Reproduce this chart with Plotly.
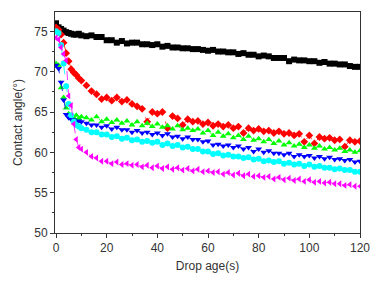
import plotly.graph_objects as go

time_s = [0,1,2,3,4,5,6,7,8,9,10] + list(range(12, 121, 2))

black = [76.0,75.5,75.3,75.1,74.9,74.8,74.7,74.6,74.6,74.7,74.5,
         74.4,74.5,74.3,74.3,73.9,73.9,73.6,73.8,73.5,73.6,
         73.6,73.4,73.4,73.3,73.4,73.1,73.2,73.0,73.0,72.9,
         72.9,72.8,72.8,72.7,72.6,72.7,72.5,72.5,72.4,72.4,
         72.2,72.3,72.1,72.1,71.9,72.0,71.9,71.7,71.7,71.7,
         71.3,71.5,71.4,71.4,71.3,71.3,71.1,71.2,71.0,71.0,
         70.9,70.9,70.7,70.6,70.6]

red = [75.5,75.2,74.6,73.6,72.3,71.3,70.3,69.9,69.6,69.2,68.9,
       68.3,67.6,67.2,66.6,66.8,66.4,66.8,66.3,66.5,66.0,
       65.7,65.4,63.8,65.0,64.8,65.0,63.0,64.5,64.2,63.4,
       64.1,63.8,63.9,63.5,63.7,63.3,63.5,63.2,63.4,63.0,
       63.2,62.4,63.0,62.7,62.9,62.6,62.7,62.4,62.6,62.3,
       62.4,62.1,62.3,61.3,62.1,61.1,61.9,61.7,61.8,61.5,
       61.6,60.7,61.5,61.3,61.4]

green = [71.0,70.8,68.0,66.8,65.5,64.8,64.5,64.3,64.6,64.2,64.4,
         64.3,64.0,64.4,63.8,64.1,63.7,64.0,63.6,63.9,63.4,
         63.8,63.3,63.6,63.2,63.5,63.1,63.3,62.9,63.3,62.8,
         63.0,62.7,62.9,62.4,62.7,62.1,62.5,62.0,62.3,61.8,
         62.1,61.6,62.0,61.5,61.7,61.3,61.6,61.1,61.4,60.9,
         61.2,60.8,61.0,60.6,60.9,60.5,60.8,60.4,60.6,60.3,
         60.5,60.1,60.3,60.0,60.2]

blue = [70.8,70.4,68.7,66.5,64.7,64.3,64.1,64.0,63.8,63.9,63.8,
        63.6,63.4,63.4,63.1,63.3,62.9,63.1,62.8,62.8,62.5,
        62.7,62.4,62.5,62.2,62.4,62.1,62.3,61.9,62.0,61.7,
        61.9,61.6,61.6,61.3,61.4,60.9,61.0,60.8,60.9,60.6,
        60.8,60.4,60.6,60.1,60.4,60.0,60.2,59.9,59.9,59.7,
        59.9,59.5,59.7,59.5,59.6,59.3,59.5,59.2,59.4,59.1,
        59.2,59.0,59.1,58.8,58.9]

cyan = [75.0,74.8,73.3,71.0,68.2,66.0,64.6,63.8,63.4,63.2,63.0,
        62.8,62.5,62.5,62.2,62.2,61.9,62.0,61.7,61.8,61.5,
        61.6,61.3,61.4,61.2,61.3,60.9,61.1,60.8,60.9,60.6,
        60.7,60.4,60.4,60.1,60.1,59.8,59.9,59.6,59.7,59.5,
        59.5,59.3,59.4,59.1,59.2,58.9,59.0,58.8,58.9,58.6,
        58.7,58.5,58.6,58.3,58.5,58.2,58.3,58.1,58.1,57.9,
        58.0,57.8,57.8,57.6,57.6]

magenta = [74.2,74.0,73.0,72.2,71.4,67.0,65.8,63.5,61.6,60.6,60.4,
           60.0,59.5,59.3,58.9,58.9,58.6,58.8,58.5,58.6,58.4,
           58.5,58.2,58.4,58.1,58.3,58.0,58.2,57.9,58.1,57.8,
           58.0,57.7,57.9,57.6,57.7,57.5,57.6,57.3,57.5,57.2,
           57.4,57.1,57.3,57.0,57.1,56.9,57.0,56.7,56.9,56.6,
           56.8,56.5,56.7,56.4,56.6,56.3,56.4,56.2,56.3,56.1,
           56.1,55.9,56.0,55.8,55.8]

series = [
    (black, "#000000", "square"),
    (red, "#ff0000", "diamond"),
    (green, "#00ff00", "triangle-up"),
    (blue, "#0000ff", "triangle-down"),
    (cyan, "#00ffff", "circle"),
    (magenta, "#ff00ff", "triangle-left"),
]

fig = go.Figure()
for ys, col, sym in series:
    fig.add_trace(go.Scatter(
        x=time_s, y=ys, mode="lines+markers",
        line=dict(color=col, width=0.8, dash="dash"),
        marker=dict(symbol=sym, color=col, size=6, line=dict(width=0)),
        showlegend=False,
    ))

axis_common = dict(
    showline=True, linecolor="#333333", linewidth=1, mirror=True,
    ticks="outside", ticklen=4, tickcolor="#333333", tickwidth=1,
    showgrid=False, zeroline=False,
    tickfont=dict(family="Liberation Sans, Arial", size=12, color="#333333"),
)

fig.update_layout(
    width=390, height=282,
    margin=dict(l=55, r=30, t=11, b=48),
    plot_bgcolor="white", paper_bgcolor="white",
    xaxis=dict(range=[-0.4, 120], tickmode="array", tickvals=[0,20,40,60,80,100,120],
               minor=dict(ticks="outside", ticklen=2, tickcolor="#333333", dtick=10, tick0=0),
               title=dict(text="Drop age(s)", font=dict(family="Liberation Sans, Arial", size=12, color="#333333"), standoff=7),
               **axis_common),
    yaxis=dict(range=[50, 77.4], tickmode="array", tickvals=[50,55,60,65,70,75],
               minor=dict(ticks="outside", ticklen=2, tickcolor="#333333", dtick=2.5, tick0=50),
               title=dict(text="Contact angle(°)", font=dict(family="Liberation Sans, Arial", size=12, color="#333333"), standoff=9),
               **axis_common),
)

fig.write_html("out.html", config={"displayModeBar": False},
               post_script="document.body.style.margin='0';document.body.style.overflow='hidden';")
